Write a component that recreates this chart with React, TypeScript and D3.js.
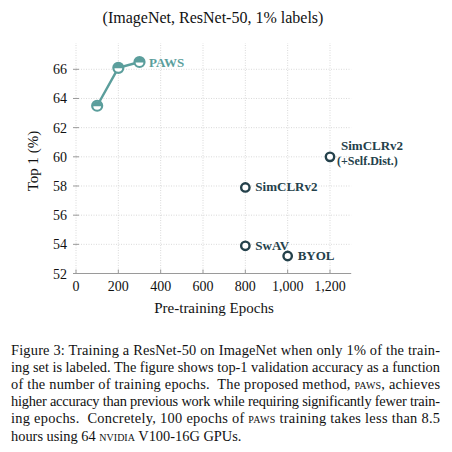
import React from "react";
import * as d3 from "d3";

const pawsEpochs = [100, 200, 300];
const pawsTop1 = [63.5, 66.1, 66.5];

const otherNames = ["SimCLRv2", "SimCLRv2 (+Self.Dist.)", "SwAV", "BYOL"];
const otherEpochs = [800, 1200, 800, 1000];
const otherTop1 = [57.9, 60.0, 53.9, 53.2];

const xTicks = [0, 200, 400, 600, 800, 1000, 1200];
const yTicks = [52, 54, 56, 58, 60, 62, 64, 66];

const captionLines = [
  ["Figure 3: Training a ResNet-50 on ImageNet when only 1% of the train-"],
  ["ing set is labeled. The figure shows top-1 validation accuracy as a function"],
  ["of the number of training epochs.  The proposed method, ", "paws", ", achieves"],
  ["higher accuracy than previous work while requiring significantly fewer train-"],
  ["ing epochs.  Concretely, 100 epochs of ", "paws", " training takes less than 8.5"],
  ["hours using 64 ", "nvidia", " V100-16G GPUs."],
];

const TEAL = "#5b9e9c";
const DARK = "#24414b";
const SERIF = "'Liberation Serif', 'DejaVu Serif', serif";

export default function App() {
  const x = d3.scaleLinear().domain([0, 1200]).range([76, 330]);
  const y = d3.scaleLinear().domain([52, 66]).range([273.5, 69.3]);
  const xMax = 1300;
  const yMax = 67.8;
  const line = d3
    .line<number>()
    .x((_, i) => x(pawsEpochs[i]))
    .y((d) => y(d));
  const fmt = d3.format(",");

  const labelOffsets: Record<string, [number, number][]> = {
    "SimCLRv2": [[10, 4]],
    "SimCLRv2 (+Self.Dist.)": [[11, -7], [7, 8]],
    "SwAV": [[10, 4]],
    "BYOL": [[10, 4]],
  };

  const r = 5;
  return (
    <svg
      width={452}
      height={452}
      style={{ position: "absolute", left: 0, top: 0, background: "#fff" }}
      fontFamily={SERIF}
    >
      <text x={213} y={23} textAnchor="middle" fontSize={16} fill="#111">
        (ImageNet, ResNet-50, 1% labels)
      </text>

      {/* grid */}
      <g stroke="#cfcfcf" strokeWidth={0.8} strokeDasharray="1,1.5">
        {xTicks.map((t) => (
          <line key={"gx" + t} x1={x(t)} x2={x(t)} y1={y(52)} y2={y(yMax)} />
        ))}
        {yTicks.map((t) => (
          <line key={"gy" + t} x1={x(0)} x2={x(xMax)} y1={y(t)} y2={y(t)} />
        ))}
      </g>

      {/* axes */}
      <line x1={x(0) - 3} x2={x(xMax)} y1={y(52)} y2={y(52)} stroke="#9a9a9a" strokeWidth={1} />
      {xTicks.map((t) => (
        <line key={"tx" + t} x1={x(t)} x2={x(t)} y1={y(52)} y2={y(52) - 4} stroke="#9a9a9a" strokeWidth={1} />
      ))}
      {yTicks.map((t) => (
        <line key={"ty" + t} x1={x(0) - 3} x2={x(0) + 3} y1={y(t)} y2={y(t)} stroke="#9a9a9a" strokeWidth={1} />
      ))}
      {xTicks.map((t) => (
        <text key={"lx" + t} x={x(t)} y={291} textAnchor="middle" fontSize={14} fill="#111">
          {fmt(t)}
        </text>
      ))}
      {yTicks.map((t) => (
        <text key={"ly" + t} x={67} y={y(t) + 5} textAnchor="end" fontSize={14} fill="#111">
          {t}
        </text>
      ))}
      <text x={214} y={313} textAnchor="middle" fontSize={15} fill="#111">
        Pre-training Epochs
      </text>
      <text
        transform={`translate(37.5,161) rotate(-90)`}
        textAnchor="middle"
        fontSize={15}
        fill="#111"
      >
        Top 1 (%)
      </text>

      {/* PAWS line */}
      <path d={line(pawsTop1) || ""} fill="none" stroke={TEAL} strokeWidth={2.4} />
      {pawsTop1.map((v, i) => {
        const cx = x(pawsEpochs[i]);
        const cy = y(v);
        return (
          <g key={"p" + i}>
            <circle cx={cx} cy={cy} r={r} fill="#fff" stroke={TEAL} strokeWidth={2.2} />
            <path
              d={`M${cx - r},${cy + 0.5} A${r},${r} 0 0 1 ${cx + r},${cy + 0.5} Z`}
              fill={TEAL}
            />
          </g>
        );
      })}
      <text x={149} y={y(pawsTop1[2]) + 4.5} fontSize={13} fontWeight="bold" fill={TEAL}>
        PAWS
      </text>

      {/* other methods */}
      {otherNames.map((n, i) => {
        const cx = x(otherEpochs[i]);
        const cy = y(otherTop1[i]);
        const parts = n.includes("(") ? [n.slice(0, n.indexOf(" (")), n.slice(n.indexOf("("))] : [n];
        const offs = labelOffsets[n];
        return (
          <g key={"o" + i}>
            <circle cx={cx} cy={cy} r={4.2} fill="#fff" stroke={DARK} strokeWidth={2.4} />
            {parts.map((p, j) => (
              <text
                key={j}
                x={cx + offs[j][0]}
                y={cy + offs[j][1]}
                fontSize={j === 0 ? 13 : 12}
                fontWeight={j === 0 ? "bold" : "600"}
                fill={DARK}
              >
                {p}
              </text>
            ))}
          </g>
        );
      })}

      {/* caption */}
      {captionLines.map((segs, i) => {
        const last = i === captionLines.length - 1;
        return (
          <text
            key={"c" + i}
            x={11}
            y={355 + i * 17.1}
            fontSize={14.4}
            fontFamily="'Liberation Serif', serif"
            fill="#111"
            textLength={last ? undefined : 429}
            lengthAdjust="spacing"
            xmlSpace="preserve"
          >
            {segs.map((s, j) =>
              s === "paws" || s === "nvidia" ? (
                <tspan key={j} style={{ fontVariant: "small-caps" }}>
                  {s}
                </tspan>
              ) : (
                <tspan key={j}>{s}</tspan>
              )
            )}
          </text>
        );
      })}
    </svg>
  );
}
